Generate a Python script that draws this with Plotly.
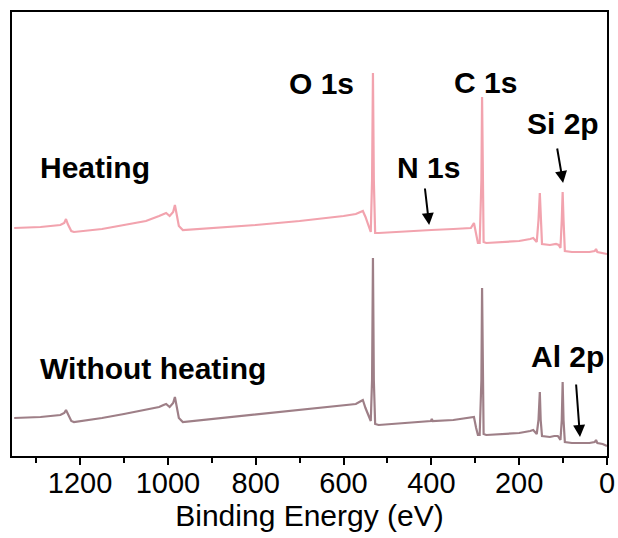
import plotly.graph_objects as go

# XPS survey spectra: binding energy (eV) and intensity (a.u., offset for stacking)
heating_be = [1350, 1290, 1245, 1236, 1232, 1228, 1220, 1214, 1150, 1100, 1050, 1020, 1010, 1004,
              996, 988, 984, 980, 975, 966, 900, 800, 700, 656, 600, 572, 560, 556, 550, 542, 538,
              535, 533, 531, 528, 520, 450, 400, 350, 310, 303, 298, 294, 290, 286, 284.5, 283,
              281, 275, 200, 175, 168, 160, 156, 153, 151, 148, 130, 116, 110, 106, 103, 101, 99,
              96, 80, 40, 28, 25, 22, 10, 0]
heating_int = [228, 229, 231, 233, 237, 232, 225, 224, 227, 231, 235, 240, 242, 243,
               240, 244, 251, 241, 230, 226, 228, 231, 235, 237, 240, 242, 244, 245, 239, 229, 224,
               276, 383, 276, 223, 223, 225, 226, 227, 228, 233, 223, 213, 213, 276, 359, 276,
               214, 213, 215, 217, 218, 214, 236, 263, 236, 212, 211, 212, 211, 208, 236, 264, 236,
               205, 204, 204, 205, 207, 204, 203, 202]

without_be = [1350, 1290, 1245, 1236, 1232, 1228, 1220, 1214, 1150, 1100, 1050, 1020, 1010, 1004,
              996, 988, 984, 980, 975, 966, 900, 800, 700, 600, 572, 560, 556, 550, 542, 538,
              535, 533, 531, 528, 520, 450, 401, 399, 397, 350, 310, 303, 298, 294, 290, 286, 284.5,
              283, 281, 275, 200, 175, 168, 160, 156, 153, 151, 148, 130, 120, 112, 106, 103, 101,
              99, 96, 80, 40, 28, 25, 22, 10, 0]
without_int = [38, 39, 41, 43, 46, 42, 35, 34, 38, 42, 46, 49, 51, 52,
               49, 53, 59, 48, 38, 34, 37, 42, 46, 51, 52, 55, 56, 48, 38, 35,
               76, 198, 76, 32, 31, 33, 35, 37, 35, 36, 38, 39, 28, 21, 21, 76, 168,
               76, 22, 21, 23, 25, 26, 22, 36, 64, 36, 20, 19, 20, 20, 16, 36, 74,
               36, 14, 13, 13, 14, 16, 13, 12, 10]

x_ticks = [1200, 1000, 800, 600, 400, 200, 0]

HEAT_COLOR = "#F2A3AE"
WITHOUT_COLOR = "#9E7F87"
FONT = "Liberation Sans, Arial, sans-serif"

fig = go.Figure()
fig.add_trace(go.Scatter(x=heating_be, y=heating_int, mode="lines",
                         line=dict(color=HEAT_COLOR, width=2.2), name="Heating"))
fig.add_trace(go.Scatter(x=without_be, y=without_int, mode="lines",
                         line=dict(color=WITHOUT_COLOR, width=2.2), name="Without heating"))

label_font = dict(family=FONT, size=30, color="black")

# Peak labels and sample labels
texts = [
    ("<b>O 1s</b>", 651, 373, "center"),
    ("<b>C 1s</b>", 276, 374, "center"),
    ("<b>Si 2p</b>", 101, 333, "center"),
    ("<b>N 1s</b>", 407, 289, "center"),
    ("<b>Al 2p</b>", 91, 100, "center"),
    ("<b>Heating</b>", 1296, 289, "left"),
    ("<b>Without heating</b>", 1296, 88, "left"),
]
for t, x, y, xa in texts:
    fig.add_annotation(x=x, y=y, text=t, showarrow=False, xanchor=xa, yanchor="middle",
                       font=label_font)

# Arrows pointing at weak peaks: (tail x, tail y, head x, head y)
arrows = [
    (415, 269, 405, 231),
    (114, 309, 100, 273),
    (70.6, 73, 61.5, 19),
]
for tx, ty, hx, hy in arrows:
    fig.add_annotation(x=hx, y=hy, ax=tx, ay=ty, axref="x", ayref="y", xref="x", yref="y",
                       text="", showarrow=True, arrowhead=2, arrowsize=1.2, arrowwidth=2,
                       arrowcolor="black")

fig.update_layout(
    width=618, height=538,
    margin=dict(l=12, r=11, t=12, b=82, autoexpand=False),
    paper_bgcolor="white", plot_bgcolor="white",
    showlegend=False,
    font=dict(family=FONT, color="black"),
)
fig.update_xaxes(
    range=[1355, 0], tickmode="array", tickvals=x_ticks, automargin=False,
    ticks="outside", ticklen=7, tickwidth=2, tickcolor="black",
    minor=dict(ticks="outside", dtick=100, tick0=0, ticklen=5, tickwidth=2, tickcolor="black"),
    tickfont=dict(family=FONT, size=29, color="black"),
    ticklabelstandoff=-7,
    showline=True, linewidth=2, linecolor="black", mirror=True,
    showgrid=False, zeroline=False,
    title=dict(text="Binding Energy (eV)", font=dict(family=FONT, size=30, color="black"),
               standoff=0),
)
fig.update_yaxes(
    range=[0, 444], showticklabels=False, ticks="", automargin=False,
    showline=True, linewidth=2, linecolor="black", mirror=True,
    showgrid=False, zeroline=False,
)

fig.write_html("out.html")
